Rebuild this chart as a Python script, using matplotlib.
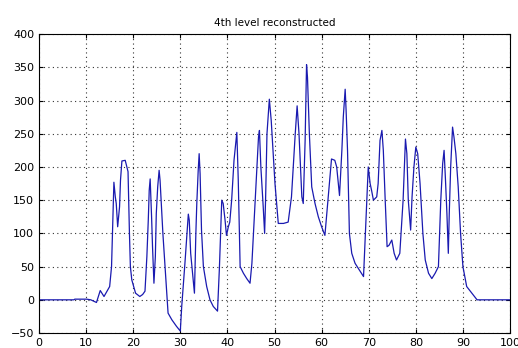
import numpy as np
import matplotlib
matplotlib.use('Agg')
import matplotlib.pyplot as plt

# points
xs = [0, 7.4, 7.6, 10.1, 11.0, 12.2, 13.0, 13.8, 15.0, 15.4, 15.6, 15.9, 16.2, 16.4, 16.7,
      17.1, 17.3, 17.6, 18.3, 18.9, 19.2, 19.4, 19.7, 20.5, 21.4, 22.0, 22.5, 22.9, 23.2,
      23.4, 23.6, 23.9, 24.1, 24.4, 24.7, 24.9, 25.2, 25.5, 25.7, 26.0, 26.3, 26.8, 27.1,
      27.4, 28.2, 29.2, 30.0, 30.3, 31.0, 31.7, 31.9, 32.2, 32.8, 33.0, 33.3, 33.5, 33.8,
      34.0, 34.2, 34.5, 34.9, 35.6, 36.3, 37.0, 37.9, 38.3, 38.8, 39.1, 39.5, 39.8, 40.2,
      40.5, 40.9, 41.4, 42.0, 42.3, 42.7, 43.4, 44.1, 44.8, 45.2, 45.9, 46.6, 46.8, 47.1,
      47.6, 47.9, 48.1, 48.4, 48.9, 49.3, 49.6, 50.1, 50.8, 51.9, 52.9, 53.6, 54.4, 54.8,
      55.2, 55.8, 56.1, 56.5, 56.8, 57.0, 57.4, 57.9, 58.6, 59.3, 60.0, 60.7, 61.4, 62.1,
      62.8, 63.2, 63.8, 64.3, 64.6, 65.0, 65.2, 65.5, 65.9, 66.4, 67.1, 68.0, 68.9, 69.3,
      69.6, 69.9, 70.3, 70.6, 71.0, 71.7, 72.0, 72.4, 72.8, 73.1, 73.5, 73.9, 74.3, 74.9,
      75.4, 75.9, 76.6, 77.3, 77.8, 78.1, 78.4, 78.9, 79.2, 79.6, 80.0, 80.4, 80.9, 81.5,
      82.0, 82.7, 83.4, 84.1, 84.8, 85.3, 85.7, 86.0, 86.3, 86.6, 86.9, 87.1, 87.4, 87.8,
      88.1, 88.5, 89.0, 89.5, 90.0, 90.8, 91.9, 93.0, 100]
ys = [0, 0, 1, 1, 0, -4, 14, 5, 20, 50, 100, 177, 155, 145, 110,
      140, 180, 209, 210, 193, 100, 50, 30, 10, 5, 8, 13, 65, 120,
      165, 182, 125, 80, 25, 65, 130, 170, 195, 180, 140, 100, 45, 10,
      -20, -30, -40, -47, -10, 57, 129, 120, 70, 25, 10, 100, 145, 195,
      220, 190, 105, 50, 20, 0, -10, -17, 48, 150, 145, 120, 97, 110,
      117, 150, 210, 252, 181, 50, 40, 32, 25, 55, 150, 245, 255, 200,
      140, 100, 150, 250, 302, 270, 235, 175, 115, 115, 117, 155, 250, 292,
      250, 155, 145, 240, 354, 335, 250, 170, 145, 125, 110, 97, 155, 212,
      210, 200, 157, 225, 275, 317, 285, 225, 100, 70, 55, 45, 35, 100,
      150, 200, 175, 165, 150, 155, 175, 240, 255, 225, 150, 80, 82, 90,
      70, 60, 70, 150, 242, 220, 150, 105, 155, 200, 230, 220, 175, 100,
      60, 40, 32, 40, 50, 150, 205, 225, 180, 130, 70, 130, 200, 260,
      245, 220, 170, 100, 50, 20, 10, 0, 0]

fig = plt.figure(figsize=(5.18, 3.48), dpi=100)
ax = fig.add_axes([0.0753, 0.043, 0.9093, 0.859])
ax.plot(xs, ys, color='#1a1ab0', linewidth=0.9)
ax.set_xlim(0, 100)
ax.set_ylim(-50, 400)
ax.set_xticks(np.arange(0, 101, 10))
ax.set_yticks(np.arange(-50, 401, 50))
ax.grid(True, linestyle=(0, (1, 3)), color='#333333', linewidth=0.8)
ax.tick_params(direction='in', labelsize=8, length=3, top=True, right=True)
for s in ax.spines.values():
    s.set_linewidth(0.8)
ax.set_title('4th level reconstructed', fontsize=7.5)
fig.savefig('out.png', dpi=100)
